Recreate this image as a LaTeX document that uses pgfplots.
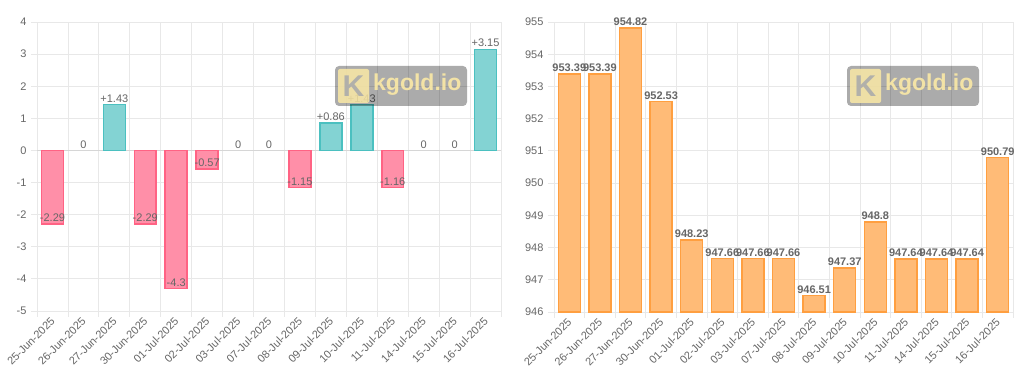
\documentclass[border=0pt]{standalone}
\usepackage{pgfplots}
\pgfplotsset{compat=1.18}
\usepackage{fontspec}
\setmainfont{Liberation Sans}
\definecolor{txt}{HTML}{666666}
\definecolor{gridc}{HTML}{E8E8E8}
\definecolor{zeroc}{HTML}{D6D6D6}
\definecolor{pinkf}{HTML}{FF8FA8}
\definecolor{pinkd}{HTML}{FF6384}
\definecolor{tealf}{HTML}{83D3D3}
\definecolor{teald}{HTML}{4BC0C0}
\definecolor{orf}{HTML}{FFBB77}
\definecolor{ord}{HTML}{FF9F40}
\definecolor{wmfg}{HTML}{FBE9A6}
\pgfplotsset{
  kg/.style={
    scale only axis,
    xmin=-0.5, xmax=14.5,
    xtick={0,...,14},
    xticklabels={25-Jun-2025,26-Jun-2025,27-Jun-2025,30-Jun-2025,01-Jul-2025,02-Jul-2025,03-Jul-2025,07-Jul-2025,08-Jul-2025,09-Jul-2025,10-Jul-2025,11-Jul-2025,14-Jul-2025,15-Jul-2025,16-Jul-2025},
    minor xtick={-0.5,0.5,...,14.5},
    xminorgrids, ymajorgrids,
    grid style={gridc, line width=0.8pt},
    minor grid style={gridc, line width=0.8pt},
    axis x line*=bottom, axis y line*=left,
    axis line style={gridc, line width=0.8pt},
    tick align=outside,
    major tick length=6pt, minor tick length=6pt,
    tick style={gridc, line width=0.8pt},
    major x tick style={draw=none},
    ticklabel style={font=\fontsize{11}{11}\selectfont, text=txt},
    xticklabel style={rotate=45, anchor=east, yshift=-2pt, xshift=2pt},
    yticklabel style={xshift=-1pt},
    /pgf/number format/assume math mode=true,
    ybar, bar width=0.71, bar shift=0pt,
    point meta=explicit symbolic,
    nodes near coords,
    every node near coord/.append style={anchor=south, font=\fontsize{11}{11}\selectfont, text=txt, inner sep=1.5pt},
  }
}
\begin{document}
\begin{tikzpicture}[x=1pt,y=1pt]
\useasboundingbox (0,-385) rectangle (1024,0);
\begin{axis}[kg, at={(37pt,-311pt)}, anchor=south west, width=464pt, height=289pt,
  ymin=-5, ymax=4, ytick={-5,...,4},
  extra y ticks={0}, extra y tick labels={}, extra y tick style={grid style={zeroc, line width=1pt}}]
\addplot[fill=pinkf, draw=pinkd, line width=1.5pt,
  every node near coord/.append style={anchor=south}] coordinates {
  (0,-2.29) [-2.29] (3,-2.29) [-2.29] (4,-4.3) [-4.3] (5,-0.57) [-0.57] (8,-1.15) [-1.15] (11,-1.16) [-1.16]};
\addplot[fill=tealf, draw=teald, line width=1.5pt] coordinates {
  (2,1.43) [+1.43] (9,0.86) [+0.86] (10,1.43) [+1.43] (14,3.15) [+3.15]};
\addplot[draw=none, fill=none] coordinates {
  (1,0) [0] (6,0) [0] (7,0) [0] (12,0) [0] (13,0) [0]};
\end{axis}
\begin{axis}[kg, at={(554pt,-312pt)}, anchor=south west, width=459pt, height=290pt,
  ymin=946, ymax=955, ytick={946,...,955}, bar width=0.72,
  every node near coord/.append style={font=\bfseries\fontsize{11}{11}\selectfont}]
\addplot[fill=orf, draw=ord, line width=1.5pt] coordinates {
  (0,953.39) [953.39] (1,953.39) [953.39] (2,954.82) [954.82] (3,952.53) [952.53]
  (4,948.23) [948.23] (5,947.66) [947.66] (6,947.66) [947.66] (7,947.66) [947.66]
  (8,946.51) [946.51] (9,947.37) [947.37] (10,948.8) [948.8] (11,947.64) [947.64]
  (12,947.64) [947.64] (13,947.64) [947.64] (14,950.79) [950.79]};
\end{axis}
% watermarks
\foreach \ox in {335,847}{
  \fill[black, opacity=0.33, rounded corners=4pt] (\ox,-66) rectangle ++(132,-40);
  \fill[wmfg, opacity=0.85, rounded corners=2pt] (\ox+3,-69) rectangle ++(31,-34);
  \node[text=black!33, opacity=0.9, font=\bfseries\fontsize{30}{30}\selectfont, inner sep=0pt] at (\ox+18.5,-86) {K};
  \node[anchor=west, text=wmfg, opacity=0.9, font=\bfseries\fontsize{23}{23}\selectfont, inner sep=0pt] at (\ox+38,-85) {kgold.io};
}
\end{tikzpicture}
\end{document}
